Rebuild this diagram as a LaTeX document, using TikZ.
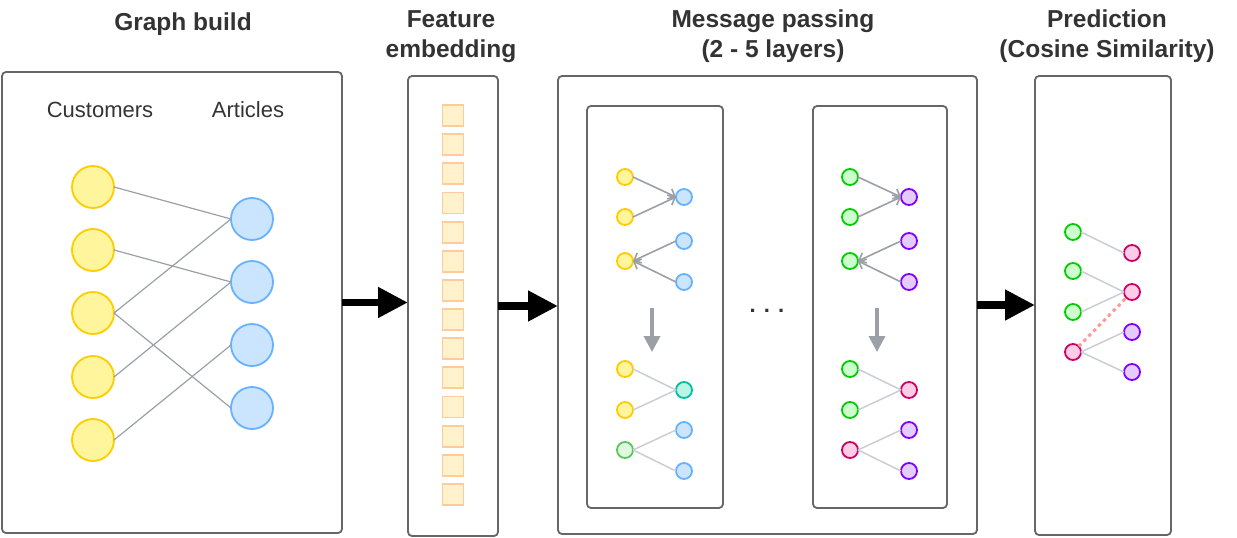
\documentclass[tikz,border=0pt]{standalone}
\usepackage{fontspec}
\setmainfont{Liberation Sans}
\usetikzlibrary{arrows.meta}
\begin{document}
\begin{tikzpicture}[x={(1pt,0pt)},y={(0pt,-1pt)},
panel/.style={draw={rgb,255:red,102;green,102;blue,102},line width=1.8pt,rounded corners=4pt,outer sep=0pt,inner sep=0pt,anchor=north west},
ttl/.style={font=\fontsize{24.5pt}{30pt}\selectfont\bfseries,text={rgb,255:red,51;green,51;blue,51},align=center,inner sep=0pt},
lbl/.style={font=\fontsize{22pt}{26pt}\selectfont,text={rgb,255:red,51;green,51;blue,51},inner sep=0pt,anchor=base},
big/.style={circle,minimum size=42pt,inner sep=0pt,outer sep=0pt,line width=1.8pt},
sm/.style={circle,minimum size=16pt,inner sep=0pt,outer sep=0pt,line width=1.8pt},
yel/.style={draw={rgb,255:red,255;green,204;blue,0},fill={rgb,255:red,255;green,245;blue,157}},
blu/.style={draw={rgb,255:red,102;green,178;blue,255},fill={rgb,255:red,204;green,229;blue,255}},
grn/.style={draw={rgb,255:red,0;green,204;blue,0},fill={rgb,255:red,204;green,255;blue,204}},
lgr/.style={draw={rgb,255:red,92;green,196;blue,92},fill={rgb,255:red,224;green,248;blue,224}},
tea/.style={draw={rgb,255:red,0;green,191;blue,160},fill={rgb,255:red,185;green,245;blue,229}},
pur/.style={draw={rgb,255:red,127;green,0;blue,255},fill={rgb,255:red,229;green,204;blue,255}},
pnk/.style={draw={rgb,255:red,204;green,0;blue,102},fill={rgb,255:red,255;green,204;blue,230}},
sq/.style={minimum size=21pt,inner sep=0pt,line width=1.8pt,draw={rgb,255:red,255;green,204;blue,153},fill={rgb,255:red,255;green,242;blue,204}},
ge/.style={draw={rgb,255:red,154;green,160;blue,166},line width=1.2pt},
ga/.style={draw={rgb,255:red,154;green,160;blue,166},line width=1.6pt,-{Straight Barb[length=6pt,width=11pt]}},
le/.style={draw={rgb,255:red,201;green,206;blue,214},line width=1.5pt},
dn/.style={draw={rgb,255:red,154;green,160;blue,166},line width=3.5pt,-{Triangle[length=16pt,width=16pt]}},
bigarrow/.style={draw=black,line width=7.5pt,-{Triangle[length=30pt,width=29pt]}}]
\useasboundingbox (0,0) rectangle (1237,538);
\node[panel,minimum width=340pt,minimum height=461pt] (gb) at (2,72) {};
\node[panel,minimum width=90pt,minimum height=460pt] (fe) at (408,76) {};
\node[panel,minimum width=419pt,minimum height=458pt] (mp) at (558,76) {};
\node[panel,minimum width=136pt,minimum height=402pt] (ml) at (587,106) {};
\node[panel,minimum width=134pt,minimum height=402pt] (mr) at (813,106) {};
\node[panel,minimum width=136pt,minimum height=459pt] (pd) at (1035,76) {};
\node[ttl,anchor=base] (t1) at (183,30) {Graph build};
\node[ttl,anchor=north] (t2) at (451,10) {Feature\\embedding};
\node[ttl,anchor=north] (t3) at (773,10) {Message passing\\(2 - 5 layers)};
\node[ttl,anchor=north] (t4) at (1107,10) {Prediction\\(Cosine Similarity)};
\node[lbl] (cu) at (100,117) {Customers};
\node[lbl] (ar) at (248,117) {Articles};
\node[big,yel] (y1) at (93,187) {};
\node[big,yel] (y2) at (93,250) {};
\node[big,yel] (y3) at (93,313) {};
\node[big,yel] (y4) at (93,377) {};
\node[big,yel] (y5) at (93,440) {};
\node[big,blu] (b1) at (252,219) {};
\node[big,blu] (b2) at (252,282) {};
\node[big,blu] (b3) at (252,345) {};
\node[big,blu] (b4) at (252,408) {};
\draw[ge] (y1.east) -- (b1.west);
\draw[ge] (y2.east) -- (b2.west);
\draw[ge] (y3.east) -- (b1.west);
\draw[ge] (y3.east) -- (b4.west);
\draw[ge] (y4.east) -- (b2.west);
\draw[ge] (y5.east) -- (b3.west);
\foreach \i in {0,...,13}
  \node[sq] (e\i) at (453,{115.5+29.15*\i}) {};
\node[sm,yel] (a1) at (625,177) {};
\node[sm,yel] (a2) at (625,217) {};
\node[sm,yel] (a3) at (625,261) {};
\node[sm,blu] (c1) at (684,197) {};
\node[sm,blu] (c2) at (684,241) {};
\node[sm,blu] (c3) at (684,282) {};
\draw[ga] (a1.east) -- (c1.west);
\draw[ga] (a2.east) -- (c1.west);
\draw[ga] (c2.west) -- (a3.east);
\draw[ga] (c3.west) -- (a3.east);
\coordinate (d1) at (652,308);
\coordinate (d2) at (652,352);
\draw[dn] (d1) -- (d2);
\node[sm,yel] (a4) at (625,369) {};
\node[sm,yel] (a5) at (625,410) {};
\node[sm,lgr] (a6) at (625,450) {};
\node[sm,tea] (c4) at (684,390) {};
\node[sm,blu] (c5) at (684,430) {};
\node[sm,blu] (c6) at (684,471) {};
\draw[le] (a4.east) -- (c4.west);
\draw[le] (a5.east) -- (c4.west);
\draw[le] (a6.east) -- (c5.west);
\draw[le] (a6.east) -- (c6.west);
\node[lbl,font=\fontsize{22pt}{26pt}\selectfont\bfseries] (dots) at (767,312) {. . .};
\node[sm,grn] (g1) at (850,177) {};
\node[sm,grn] (g2) at (850,217) {};
\node[sm,grn] (g3) at (850,261) {};
\node[sm,pur] (v1) at (909,197) {};
\node[sm,pur] (v2) at (909,241) {};
\node[sm,pur] (v3) at (909,282) {};
\draw[ga] (g1.east) -- (v1.west);
\draw[ga] (g2.east) -- (v1.west);
\draw[ga] (v2.west) -- (g3.east);
\draw[ga] (v3.west) -- (g3.east);
\coordinate (d3) at (877,308);
\coordinate (d4) at (877,352);
\draw[dn] (d3) -- (d4);
\node[sm,grn] (g4) at (850,369) {};
\node[sm,grn] (g5) at (850,410) {};
\node[sm,pnk] (g6) at (850,450) {};
\node[sm,pnk] (v4) at (909,390) {};
\node[sm,pur] (v5) at (909,430) {};
\node[sm,pur] (v6) at (909,471) {};
\draw[le] (g4.east) -- (v4.west);
\draw[le] (g5.east) -- (v4.west);
\draw[le] (g6.east) -- (v5.west);
\draw[le] (g6.east) -- (v6.west);
\node[sm,grn] (q1) at (1073,232) {};
\node[sm,grn] (q2) at (1073,271) {};
\node[sm,grn] (q3) at (1073,312) {};
\node[sm,pnk] (q4) at (1073,352) {};
\node[sm,pnk] (r1) at (1132,253) {};
\node[sm,pnk] (r2) at (1132,292) {};
\node[sm,pur] (r3) at (1132,332) {};
\node[sm,pur] (r4) at (1132,372) {};
\draw[le] (q1.east) -- (r1.west);
\draw[le] (q2.east) -- (r2.west);
\draw[le] (q3.east) -- (r2.west);
\draw[le] (q4.east) -- (r3.west);
\draw[le] (q4.east) -- (r4.west);
\draw[draw={rgb,255:red,255;green,153;blue,153},line width=3pt,dash pattern=on 3.5pt off 3.5pt] (q4.north east) -- (r2.south west);
\draw[bigarrow] (gb.east) -- (gb.east -| fe.west);
\draw[bigarrow] (fe.east) -- (fe.east -| mp.west);
\draw[bigarrow] (mp.east) -- (mp.east -| pd.west);
\end{tikzpicture}
\end{document}
